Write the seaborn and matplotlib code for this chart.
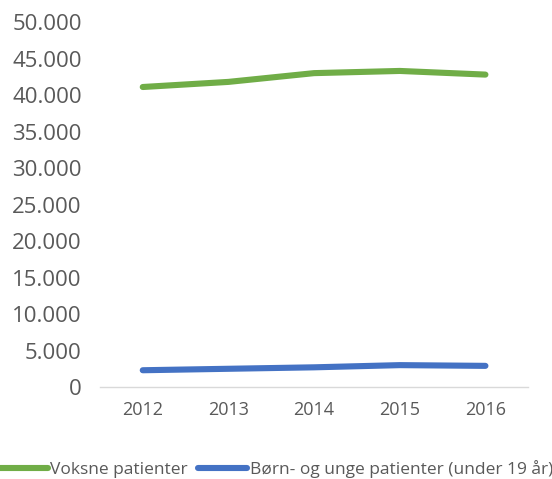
import pandas as pd
import matplotlib
matplotlib.use("Agg")
import matplotlib.pyplot as plt
from matplotlib.ticker import FuncFormatter, MultipleLocator
import seaborn as sns

# Data
years = [2012, 2013, 2014, 2015, 2016]
voksne = [41100, 41800, 43000, 43300, 42800]
boern = [2300, 2500, 2700, 3000, 2900]
series_names = ["Voksne patienter", "Børn- og unge patienter (under 19 år)"]
colors = ["#70AD47", "#4472C4"]

df = pd.DataFrame({
    "år": years * 2,
    "antal": voksne + boern,
    "gruppe": [series_names[0]] * len(years) + [series_names[1]] * len(years),
})

sns.set_theme(style="white")
plt.rcParams['font.family'] = ['Open Sans', 'DejaVu Sans']

fig = plt.figure(figsize=(5.52, 4.79), dpi=100)
ax = fig.add_axes([0.181, 0.192, 0.776, 0.762])

sns.lineplot(data=df, x="år", y="antal", hue="gruppe", palette=colors,
             linewidth=4.4, ax=ax, legend=False, solid_capstyle="round")

ax.set_xlim(2011.5, 2016.5)
ax.set_ylim(0, 50000)
ax.set_xticks(years)
ax.yaxis.set_major_locator(MultipleLocator(5000))
ax.yaxis.set_major_formatter(FuncFormatter(lambda v, p: f"{int(v):,}".replace(",", ".")))
ax.set_xlabel("")
ax.set_ylabel("")

for s in ["top", "right", "left"]:
    ax.spines[s].set_visible(False)
ax.spines["bottom"].set_color("#D9D9D9")
ax.spines["bottom"].set_linewidth(1.0)
ax.tick_params(axis="both", length=0, colors="#595959")
ax.tick_params(axis="y", labelsize=16, pad=13)
ax.tick_params(axis="x", labelsize=13, pad=10)

handles = [plt.Line2D([], [], color=c, linewidth=4.4, solid_capstyle="round") for c in colors]
fig.legend(handles, series_names, loc="center", bbox_to_anchor=(0.5, 0.021),
           ncol=2, frameon=False, fontsize=12.5, handlelength=2.8,
           handletextpad=0.15, columnspacing=0.6, labelcolor="#595959")

fig.savefig("out.png", dpi=100)
